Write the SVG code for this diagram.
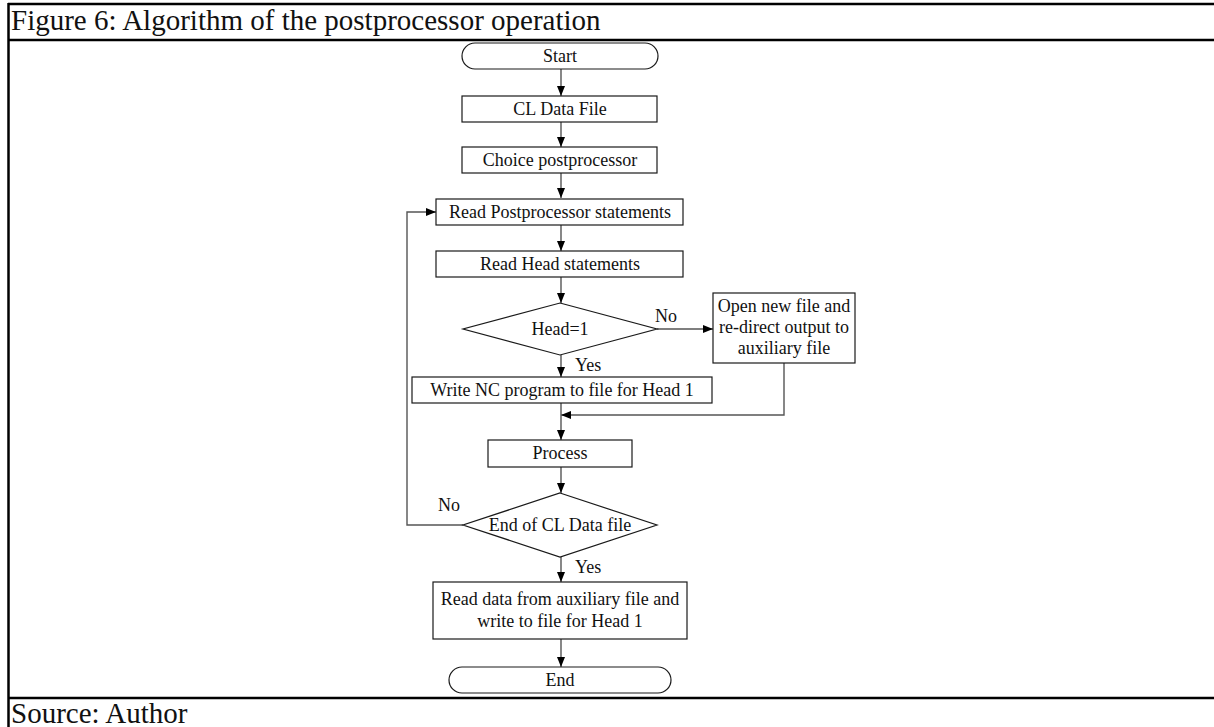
<svg xmlns="http://www.w3.org/2000/svg" width="1214" height="727" viewBox="0 0 1214 727">
<defs>
<style>
.frame{stroke:#000;stroke-width:2.5;fill:none}
.box{fill:#fff;stroke:#1a1a1a;stroke-width:1.2}
.t{font-family:"Liberation Serif","Times New Roman",serif;font-size:18px;fill:#111;text-anchor:middle}
.lbl{font-family:"Liberation Serif","Times New Roman",serif;font-size:18px;fill:#111}
.big{font-family:"Liberation Serif","Times New Roman",serif;font-size:29px;fill:#111}
.c{fill:none;stroke:#555;stroke-width:1.4}
</style>
<marker id="ah" viewBox="0 0 10 8" markerWidth="10" markerHeight="8" refX="10" refY="4" orient="auto" markerUnits="userSpaceOnUse">
<path d="M0,0 L10,4 L0,8 z" fill="#000"/>
</marker>
</defs>
<rect width="1214" height="727" fill="#fff"/>
<g id="frame">
<line class="frame" x1="8" y1="4" x2="1214" y2="4"/>
<line class="frame" x1="8" y1="40" x2="1214" y2="40"/>
<line class="frame" x1="8" y1="698" x2="1214" y2="698"/>
<line class="frame" x1="8.5" y1="3" x2="8.5" y2="727"/>
<text class="big" x="11" y="30">Figure 6: Algorithm of the postprocessor operation</text>
<text class="big" x="11" y="723">Source: Author</text>
</g>
<g id="connectors">
<path class="c" d="M561 69 V96" marker-end="url(#ah)"/>
<path class="c" d="M561 122 V147" marker-end="url(#ah)"/>
<path class="c" d="M561 173 V198" marker-end="url(#ah)"/>
<path class="c" d="M561 225 V251" marker-end="url(#ah)"/>
<path class="c" d="M561 277 V303" marker-end="url(#ah)"/>
<path class="c" d="M657 329 H713" marker-end="url(#ah)"/>
<path class="c" d="M561 355 V377" marker-end="url(#ah)"/>
<path class="c" d="M784 363 V415 H561" marker-end="url(#ah)"/>
<path class="c" d="M561 403 V440" marker-end="url(#ah)"/>
<path class="c" d="M561 467 V493" marker-end="url(#ah)"/>
<path class="c" d="M463 525 H407 V212 H436" marker-end="url(#ah)"/>
<path class="c" d="M561 557 V582" marker-end="url(#ah)"/>
<path class="c" d="M561 639 V667" marker-end="url(#ah)"/>
<text class="lbl" x="655" y="322">No</text>
<text class="lbl" x="575" y="371">Yes</text>
<text class="lbl" x="438" y="511">No</text>
<text class="lbl" x="575" y="573">Yes</text>
</g>
<g id="start">
<rect class="box" x="462" y="43" width="196" height="26" rx="13" ry="13"/>
<text class="t" x="560" y="62">Start</text>
</g>
<g id="cl-data">
<rect class="box" x="462" y="96" width="195" height="26"/>
<text class="t" x="560" y="115">CL Data File</text>
</g>
<g id="choice">
<rect class="box" x="462" y="147" width="195" height="26"/>
<text class="t" x="560" y="166">Choice postprocessor</text>
</g>
<g id="read-post">
<rect class="box" x="436" y="199" width="247" height="26"/>
<text class="t" x="560" y="218">Read Postprocessor statements</text>
</g>
<g id="read-head">
<rect class="box" x="436" y="251" width="247" height="26"/>
<text class="t" x="560" y="270">Read Head statements</text>
</g>
<g id="head-dec">
<polygon class="box" points="560,303 657,329 560,355 463,329"/>
<text class="t" x="560" y="335">Head=1</text>
</g>
<g id="open-new">
<rect class="box" x="713" y="293" width="142" height="70"/>
<text class="t" x="784" y="312">Open new file and</text>
<text class="t" x="784" y="333">re-direct output to</text>
<text class="t" x="784" y="354">auxiliary file</text>
</g>
<g id="write-nc">
<rect class="box" x="412" y="377" width="300" height="26"/>
<text class="t" x="562" y="396">Write NC program to file for Head 1</text>
</g>
<g id="process">
<rect class="box" x="488" y="440" width="144" height="27"/>
<text class="t" x="560" y="459">Process</text>
</g>
<g id="end-dec">
<polygon class="box" points="560,493 657,525 560,557 463,525"/>
<text class="t" x="560" y="531">End of CL Data file</text>
</g>
<g id="read-data">
<rect class="box" x="433" y="582" width="254" height="57"/>
<text class="t" x="560" y="605">Read data from auxiliary file and</text>
<text class="t" x="560" y="627">write to file for Head 1</text>
</g>
<g id="end">
<rect class="box" x="449" y="667" width="222" height="26" rx="13" ry="13"/>
<text class="t" x="560" y="686">End</text>
</g>
</svg>
